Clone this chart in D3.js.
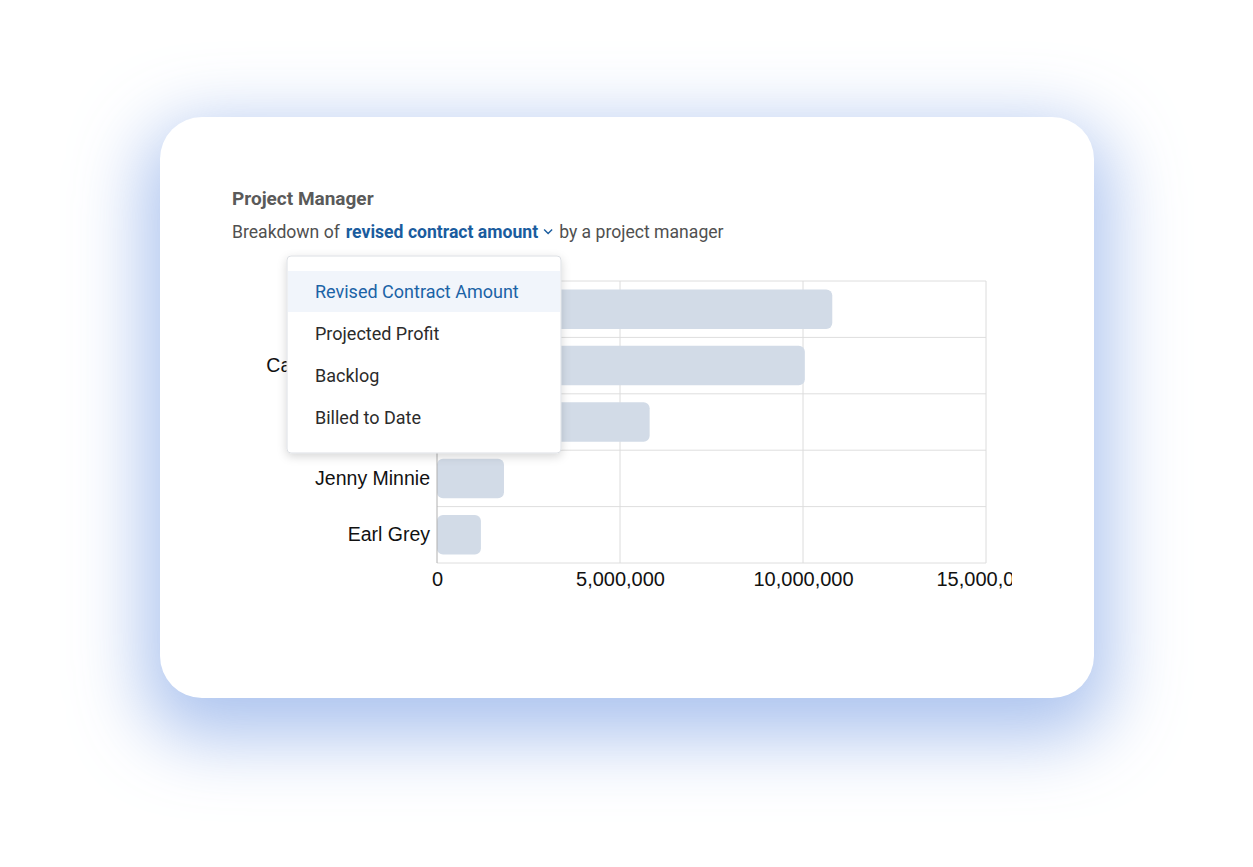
<!DOCTYPE html>
<html><head><meta charset="utf-8">
<script src="https://cdn.jsdelivr.net/npm/d3@7"></script>
<style>
html,body{margin:0;padding:0;background:#fff;width:1253px;height:867px;overflow:hidden;}
#card{position:absolute;left:160px;top:117px;width:934px;height:581px;background:#fff;border-radius:42px;
box-shadow:0 24px 70px 16px rgba(150,180,235,0.78);}
#svg{position:absolute;left:0;top:0;}
</style></head>
<body>
<div id="card"></div>
<svg id="svg" width="1253" height="867"></svg>
<script>
const managers = ["Alan Brooks", "Cassie Richardson", "Dana Fuller", "Jenny Minnie", "Earl Grey"];
const revisedContract = [10800000, 10050000, 5810000, 1830000, 1200000];
const xTicks = [0, 5000000, 10000000, 15000000];
const menuItems = ["Revised Contract Amount", "Projected Profit", "Backlog", "Billed to Date"];
const title = "Project Manager";
const subtitleParts = ["Breakdown of", "revised contract amount", "by a project manager"];

const svg = d3.select("#svg");
const plot = {left:437, right:986, top:281, bottom:563};
const uiFont = "Roboto, 'Open Sans', sans-serif";
const axFont = "'Liberation Sans', Arial, sans-serif";

const x = d3.scaleLinear().domain([0, 15000000]).range([plot.left, plot.right]);
const y = d3.scaleBand().domain(managers).range([plot.top, plot.bottom]).paddingInner(0.3).paddingOuter(0.15);

const defs = svg.append("defs");
defs.append("clipPath").attr("id","chartclip")
  .append("rect").attr("x",200).attr("y",250).attr("width",812).attr("height",360);
const f = defs.append("filter").attr("id","menuShadow").attr("x","-20%").attr("y","-20%").attr("width","140%").attr("height","150%");
f.append("feDropShadow").attr("dx",0).attr("dy",3).attr("stdDeviation",5).attr("flood-color","#000").attr("flood-opacity",0.16);

const chart = svg.append("g").attr("clip-path","url(#chartclip)");

// title
svg.append("text").attr("x",232).attr("y",205).text(title)
  .style("font-family",uiFont).style("font-size","19px").style("font-weight","700").attr("fill","#5a5a5a");
const s1 = svg.append("text").attr("x",232).attr("y",238).text(subtitleParts[0])
  .style("font-family",uiFont).style("font-size","17.6px").attr("fill","#505050");
const w1 = s1.node().getComputedTextLength();
const s2 = svg.append("text").attr("x",232+w1+6).attr("y",238).text(subtitleParts[1])
  .style("font-family",uiFont).style("font-size","17.6px").style("font-weight","700").attr("fill","#1a5c9e");
const end2 = 232+w1+6+s2.node().getComputedTextLength();
svg.append("path").attr("d",`M${end2+6},229.5 L${end2+10},233.5 L${end2+14},229.5`).attr("fill","none").attr("stroke","#1a5c9e").attr("stroke-width",1.4);
svg.append("text").attr("x",end2+21).attr("y",238).text(subtitleParts[2])
  .style("font-family",uiFont).style("font-size","17.6px").attr("fill","#505050");

// grid
const rowEdges = d3.range(managers.length+1).map(i => plot.top + i*(plot.bottom-plot.top)/managers.length);
chart.append("g").selectAll("line").data(rowEdges).join("line")
  .attr("x1",plot.left).attr("x2",plot.right).attr("y1",d=>d).attr("y2",d=>d)
  .attr("stroke","#dedede").attr("stroke-width",1);
chart.append("g").selectAll("line").data(xTicks.slice(1)).join("line")
  .attr("x1",d=>x(d)).attr("x2",d=>x(d)).attr("y1",plot.top).attr("y2",plot.bottom)
  .attr("stroke","#dcdcdc").attr("stroke-width",1);

// bars
chart.append("g").selectAll("rect").data(managers).join("rect")
  .attr("x",x(0)).attr("y",d=>y(d)).attr("height",y.bandwidth())
  .attr("width",(d,i)=>x(revisedContract[i])-x(0)).attr("rx",6)
  .attr("fill","#d2dbe7");

// left axis line
chart.append("line").attr("x1",plot.left).attr("x2",plot.left).attr("y1",plot.top).attr("y2",plot.bottom)
  .attr("stroke","#b0b0b0").attr("stroke-width",1);

// category labels
const yAxis = d3.axisLeft(y).tickSize(0).tickPadding(7);
const gy = chart.append("g").attr("transform",`translate(${plot.left},0)`).call(yAxis);
gy.select(".domain").remove();
gy.selectAll("text").style("font-family",axFont).style("font-size","19.5px").attr("fill","#111");

// x axis
const xAxis = d3.axisBottom(x).tickValues(xTicks).tickSize(0).tickPadding(9).tickFormat(d3.format(","));
const gx = chart.append("g").attr("transform",`translate(0,${plot.bottom})`).call(xAxis);
gx.select(".domain").remove();
gx.selectAll("text").style("font-family",axFont).style("font-size","20px").attr("fill","#111");

// dropdown menu
const menu = {x:287, y:256, w:274, h:197};
const mg = svg.append("g");
mg.append("rect").attr("x",menu.x).attr("y",menu.y).attr("width",menu.w).attr("height",menu.h).attr("rx",4)
  .attr("fill","#fff").attr("stroke","#dcdfe4").attr("filter","url(#menuShadow)");
const itemY = d3.scaleBand().domain(menuItems).range([menu.y+14, menu.y+14+4*42]);
mg.append("rect").attr("x",menu.x+1).attr("y",itemY(menuItems[0])+1).attr("width",menu.w-2).attr("height",41).attr("fill","#f1f5fb");
mg.selectAll("text.item").data(menuItems).join("text").attr("class","item")
  .attr("x",menu.x+28).attr("y",d=>itemY(d)+itemY.bandwidth()/2+1).attr("dy","0.35em")
  .text(d=>d)
  .style("font-family",uiFont).style("font-size","18px")
  .attr("fill",(d,i)=> i===0 ? "#1b63a6" : "#2b2b2b");
</script>
</body></html>
